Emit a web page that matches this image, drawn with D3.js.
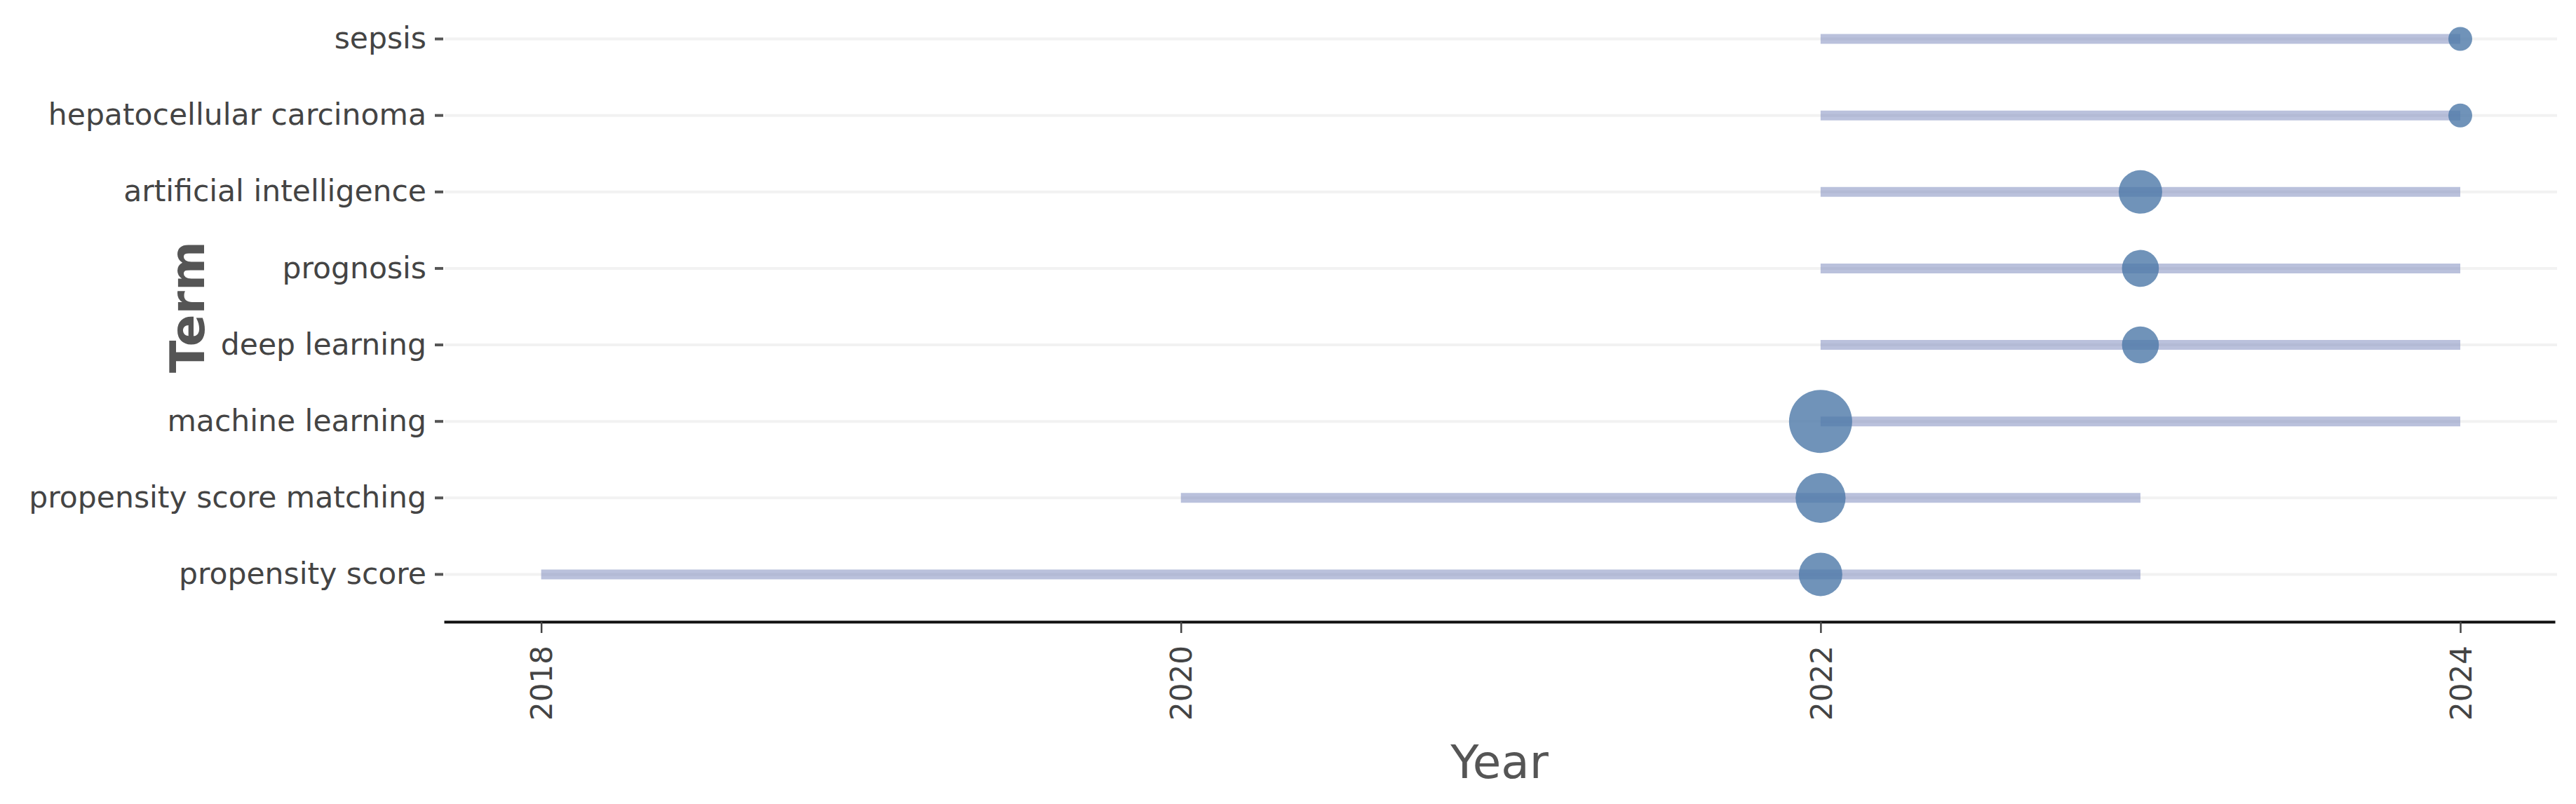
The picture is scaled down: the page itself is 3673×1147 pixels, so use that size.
<!DOCTYPE html>
<html>
<head>
<meta charset="utf-8">
<script src="https://cdn.jsdelivr.net/npm/d3@7/dist/d3.min.js"></script>
<style>
  body { margin: 0; background: #ffffff; }
  text { font-family: "DejaVu Sans", Verdana, sans-serif; }
</style>
</head>
<body>
<div id="chart"></div>
<script>
// Terms, bottom to top
var terms = ["propensity score", "propensity score matching", "machine learning", "deep learning",
    "prognosis", "artificial intelligence", "hepatocellular carcinoma", "sepsis"];
// first and last year each term shows up
var startYears = [2018, 2020, 2022, 2022, 2022, 2022, 2022, 2022];
var endYears = [2023, 2023, 2024, 2024, 2024, 2024, 2024, 2024];
// year with the most hits and how many
var peakYears = [2022, 2022, 2022, 2023, 2023, 2023, 2024, 2024];
var frequencies = [7, 8, 10, 6, 6, 7, 4, 4];
var yearTicks = [2018, 2020, 2022, 2024];

// SVG area
var svgWidth = 3673;
var svgHeight = 1147;

var chartMargin = {
    top: 1,
    right: 30,
    bottom: 273,
    left: 633
};

var width = svgWidth - chartMargin.left - chartMargin.right;
var height = svgHeight - chartMargin.top - chartMargin.bottom;

var svg = d3.select("#chart")
    .append("svg")
    .attr("width", svgWidth)
    .attr("height", svgHeight);

var chartGroup = svg.append("g")
    .attr("transform", `translate(${chartMargin.left}, ${chartMargin.top})`);

// rows bundled for the data joins
var data = terms.map(function(t, i) {
    return { term: t, start: startYears[i], end: endYears[i], peak: peakYears[i], freq: frequencies[i] };
});

// Scales
var xLinearScale = d3.scaleLinear()
    .domain([2017.696, 2024.296])
    .range([0, width]);

var yBandScale = d3.scaleBand()
    .domain(terms.slice().reverse())
    .range([0, height]);

var rScale = d3.scaleLinear()
    .domain([4, 10])
    .range([17, 45]);

var rowY = d => yBandScale(d) + yBandScale.bandwidth() / 2;

// horizontal gridlines
chartGroup.append("g")
    .selectAll("line")
    .data(terms)
    .enter()
    .append("line")
    .attr("x1", 1)
    .attr("x2", width + 3)
    .attr("y1", d => rowY(d))
    .attr("y2", d => rowY(d))
    .attr("stroke", "#f2f2f2")
    .attr("stroke-width", 4);

// Y axis (ticks + labels, no line)
var leftAxis = d3.axisLeft(yBandScale).tickSize(12).tickPadding(12);
var yAxis = chartGroup.append("g")
    .attr("transform", "translate(-1, 0)")
    .call(leftAxis);
yAxis.select(".domain").remove();
yAxis.selectAll(".tick line")
    .attr("stroke", "#555")
    .attr("stroke-width", 4);
yAxis.selectAll(".tick text")
    .attr("fill", "#444")
    .style("font-size", "42.5px");

// X axis
var bottomAxis = d3.axisBottom(xLinearScale)
    .tickValues(yearTicks)
    .tickFormat(d3.format("d"))
    .tickSizeInner(16)
    .tickSizeOuter(0);
var xAxis = chartGroup.append("g")
    .attr("transform", `translate(0, ${height + 13})`)
    .call(bottomAxis);
xAxis.select(".domain")
    .attr("stroke", "#111")
    .attr("stroke-width", 4);
xAxis.selectAll(".tick line")
    .attr("stroke", "#444")
    .attr("stroke-width", 2.5);
xAxis.selectAll(".tick text")
    .attr("transform", "rotate(-90)")
    .attr("text-anchor", "end")
    .attr("x", -34)
    .attr("y", 0)
    .attr("dy", "0.36em")
    .attr("fill", "#444")
    .style("font-size", "42px");

// Segments from first to last year
chartGroup.append("g")
    .selectAll("line")
    .data(data)
    .enter()
    .append("line")
    .attr("x1", d => xLinearScale(d.start))
    .attr("x2", d => xLinearScale(d.end))
    .attr("y1", d => rowY(d.term))
    .attr("y2", d => rowY(d.term))
    .attr("stroke", "rgba(110, 125, 182, 0.48)")
    .attr("stroke-width", 14);

// Peak year circles
chartGroup.append("g")
    .selectAll("circle")
    .data(data)
    .enter()
    .append("circle")
    .attr("cx", d => xLinearScale(d.peak))
    .attr("cy", d => rowY(d.term))
    .attr("r", d => rScale(d.freq))
    .attr("fill", "#4c78a8")
    .attr("opacity", 0.8);

// Axis titles
svg.append("text")
    .attr("x", chartMargin.left + width / 2)
    .attr("y", 1110)
    .attr("text-anchor", "middle")
    .attr("fill", "#555")
    .style("font-size", "66px")
    .text("Year");

svg.append("text")
    .attr("transform", "translate(291, 438) rotate(-90)")
    .attr("text-anchor", "middle")
    .attr("fill", "#555")
    .style("font-size", "68px")
    .style("font-weight", "bold")
    .text("Term");
</script>
</body>
</html>
